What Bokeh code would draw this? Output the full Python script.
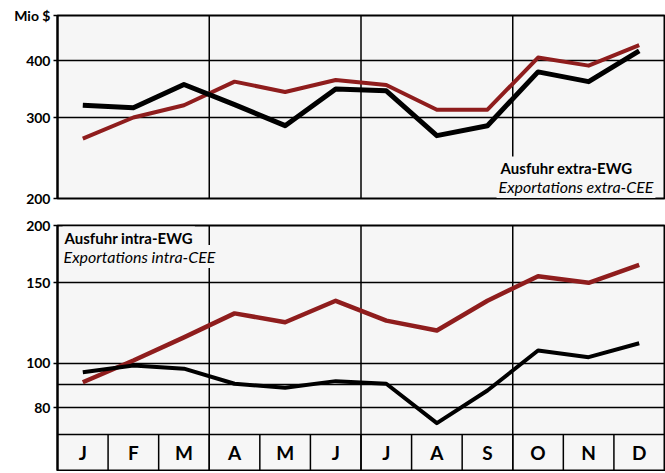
from bokeh.plotting import figure
from bokeh.models import Range1d, FixedTicker, Span, Label, BasicTickFormatter
from bokeh.layouts import column
from bokeh.embed import file_html
from bokeh.resources import INLINE
from bokeh.core.properties import value

# ---- data ----
months = ["J", "F", "M", "A", "M", "J", "J", "A", "S", "O", "N", "D"]
extra_black = [319, 315, 354, 320, 288, 346, 343, 274, 288, 377, 359, 419]
extra_red = [270, 300, 319, 359, 341, 362, 353, 312, 312, 405, 389, 431]
intra_black = [95.7, 99, 97.4, 90.3, 88.5, 91.5, 90.3, 74.1, 87.3, 106.7, 103.2, 110.7]
intra_red = [91, 101.5, 114, 128.6, 123, 137, 124, 118, 137, 155, 150, 164]
top_ticks = [200, 300, 400, 500]
top_tick_labels = {500: "Mio $"}
top_grid = [300, 400]
bottom_ticks = [80, 100, 150, 200]
bottom_grid = [70, 80, 90, 100, 150]
top_range = (200, 500)
bottom_range = (58.4, 200)
band_top = 70
quarters = [3, 6, 9]

RED = "#8f1d1d"
BG = "#f6f6f6"
FONT = "Lato"
W = 665

xs = [i + 0.5 for i in range(len(months))]


def make_fig(h, yr, ticks, grid, top, bottom):
    p = figure(width=W, height=h, x_range=Range1d(0, len(months)),
               y_range=Range1d(*yr), y_axis_type="log",
               output_backend="svg", toolbar_location=None,
               x_axis_location=None,
               min_border_left=57, min_border_right=1,
               min_border_top=top, min_border_bottom=bottom,
               background_fill_color=BG, border_fill_color="white",
               outline_line_color="black", outline_line_width=2)
    p.xgrid.visible = False
    p.ygrid.ticker = FixedTicker(ticks=grid)
    p.ygrid.grid_line_color = "black"
    p.ygrid.grid_line_width = 1.5
    ax = p.yaxis[0]
    ax.ticker = FixedTicker(ticks=ticks)
    ax.formatter = BasicTickFormatter()
    ax.axis_line_width = 2
    ax.axis_line_color = "black"
    ax.major_tick_out = 4
    ax.major_tick_in = 0
    ax.major_tick_line_width = 1.5
    ax.minor_tick_out = 0
    ax.minor_tick_in = 0
    ax.major_label_standoff = 3
    ax.major_label_text_font = FONT
    ax.major_label_text_font_style = "bold"
    ax.major_label_text_font_size = "14px"
    ax.major_label_text_color = "black"
    for q in quarters:
        p.add_layout(Span(location=q, dimension="height", line_color="black",
                          line_width=1.5, level="underlay"))
    return p


def note(p, x, y, text, italic=False):
    p.add_layout(Label(x=x, y=y, x_units="data", y_units="screen",
                       text=text, text_font=FONT, text_color="black",
                       text_font_style="italic" if italic else "bold",
                       text_font_size="15px" if not italic else "16px",
                       text_baseline="middle",
                       background_fill_color=BG, padding=2))


# ---- top panel: extra-EWG ----
p1 = make_fig(211, top_range, top_ticks, top_grid, 15, 13)
p1.yaxis[0].major_label_overrides = top_tick_labels
p1.line(xs, extra_red, line_color=RED, line_width=4, line_join="round")
p1.line(xs, extra_black, line_color="black", line_width=5, line_join="round")
note(p1, 8.72, 31, "Ausfuhr extra-EWG")
note(p1, 8.68, 12, "Exportations extra-CEE", italic=True)

# ---- bottom panel: intra-EWG + month band ----
p2 = make_fig(260, bottom_range, bottom_ticks, bottom_grid, 14, 1)
p2.line(xs, intra_red, line_color=RED, line_width=4.5, line_join="round")
p2.line(xs, intra_black, line_color="black", line_width=4, line_join="round")
p2.segment(x0=list(range(1, len(months))), y0=[bottom_range[0]] * (len(months) - 1),
           x1=list(range(1, len(months))), y1=[band_top] * (len(months) - 1),
           line_color="black", line_width=1.5)
band_mid = (bottom_range[0] * band_top) ** 0.5
p2.text(x=xs, y=[band_mid] * len(months), text=months,
        text_font=value(FONT), text_font_style="bold", text_font_size="19px",
        text_align="center", text_baseline="middle", text_color="black")
note(p2, 0.1, 233, "Ausfuhr intra-EWG")
note(p2, 0.08, 214, "Exportations intra-CEE", italic=True)

layout = column(p1, p2, spacing=0)
open("out.html", "w").write(file_html(layout, INLINE))
